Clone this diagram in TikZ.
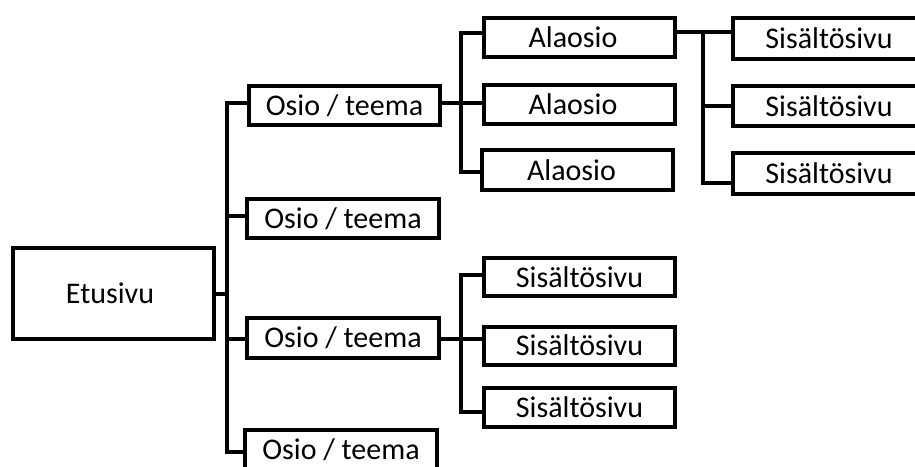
\documentclass[tikz,border=0pt]{standalone}
\usepackage{fontspec}
\setmainfont{Carlito}
\begin{document}
\begin{tikzpicture}[x=1pt,y=-1pt,
  box/.style={draw=black, line width=4pt, rectangle, inner sep=0pt,
    font=\fontsize{30}{32}\selectfont, text=black},
  conn/.style={draw=black, line width=4pt, line cap=rect}]
\useasboundingbox (0,0) rectangle (915,466);
% nodes
\node[box, minimum width=201pt, minimum height=91pt] (E) at (113.5,293.5) {\hspace*{-7pt}Etusivu};
\node[box, minimum width=191pt, minimum height=39pt] (O1) at (344.5,105.5) {Osio / teema};
\node[box, minimum width=192pt, minimum height=39pt] (O2) at (343,218.5) {Osio / teema};
\node[box, minimum width=192pt, minimum height=40pt] (O3) at (343,338) {Osio / teema};
\node[box, minimum width=192pt, minimum height=40pt] (O4) at (341,449.5) {Osio / teema};
\node[box, minimum width=191pt, minimum height=39pt] (A1) at (579.5,37.5) {\hspace*{-13pt}Alaosio};
\node[box, minimum width=191pt, minimum height=39pt] (A2) at (579.5,104.5) {\hspace*{-13pt}Alaosio};
\node[box, minimum width=191pt, minimum height=40pt] (A3) at (577.5,170) {\hspace*{-12pt}Alaosio};
\node[box, minimum width=192pt, minimum height=41.5pt] (S1) at (829,38.25) {Sisältösivu};
\node[box, minimum width=192pt, minimum height=40.5pt] (S2) at (829,105.75) {Sisältösivu};
\node[box, minimum width=192pt, minimum height=41pt] (S3) at (829,173) {Sisältösivu};
\node[box, minimum width=191pt, minimum height=38pt] (L1) at (579.5,277) {Sisältösivu};
\node[box, minimum width=191pt, minimum height=38pt] (L2) at (579.5,345.5) {Sisältösivu};
\node[box, minimum width=191pt, minimum height=39pt] (L3) at (579.5,407) {Sisältösivu};
% junction coordinates
\coordinate (sp) at (227,293.5);
\coordinate (cO1) at (227,103);
\coordinate (cO2) at (227,216);
\coordinate (cO3) at (227,339);
\coordinate (cO4) at (227,452);
\coordinate (jA1) at (461,33);
\coordinate (jA2) at (461,103);
\coordinate (jA3) at (461,172);
\coordinate (jS1) at (703,32);
\coordinate (jS2) at (703,106);
\coordinate (jS3) at (703,183);
\coordinate (jL1) at (461,275);
\coordinate (jL2) at (461,338.5);
\coordinate (jL3) at (461,412);
% connectors: level 1
\draw[conn] (E.east) -- (sp);
\draw[conn] (cO1) -- (cO4);
\draw[conn] (cO1) -- (O1.west |- cO1);
\draw[conn] (cO2) -- (O2.west |- cO2);
\draw[conn] (cO3) -- (O3.west |- cO3);
\draw[conn] (cO4) -- (O4.west |- cO4);
% Osio 1 -> Alaosio
\draw[conn] (O1.east |- jA2) -- (A2.west |- jA2);
\draw[conn] (jA1) -- (jA3);
\draw[conn] (jA1) -- (A1.west |- jA1);
\draw[conn] (jA3) -- (A3.west |- jA3);
% Alaosio 1 -> Sisältösivu
\draw[conn] (A1.east |- jS1) -- (S1.west |- jS1);
\draw[conn] (jS1) -- (jS3);
\draw[conn] (jS2) -- (S2.west |- jS2);
\draw[conn] (jS3) -- (S3.west |- jS3);
% Osio 3 -> Sisältösivu
\draw[conn] (O3.east |- jL2) -- (L2.west |- jL2);
\draw[conn] (jL1) -- (jL3);
\draw[conn] (jL1) -- (L1.west |- jL1);
\draw[conn] (jL3) -- (L3.west |- jL3);
\end{tikzpicture}
\end{document}
